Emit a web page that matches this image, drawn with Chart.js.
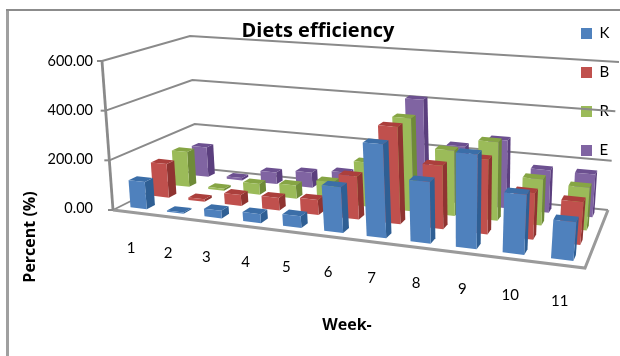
<!DOCTYPE html>
<html><head><meta charset="utf-8">
<style>html,body{margin:0;padding:0;background:#fff}#wrap{position:relative;width:620px;height:356px}</style>
<script src="https://cdn.jsdelivr.net/npm/chart.js@4"></script></head>
<body><div id="wrap"><canvas id="c" width="620" height="356"></canvas></div>
<script>
const weeks=['1','2','3','4','5','6','7','8','9','10','11'];
const seriesK=[110,5,30,35,45,175,355,230,350,220,140];
const seriesB=[140,10,45,50,60,170,380,245,285,175,160];
const seriesR=[150,8,45,55,85,180,375,260,310,180,165];
const seriesE=[130,10,50,65,80,100,415,235,275,170,170];
const yTicks=[0,200,400,600];
const colK='#4f81bd',colB='#c0504d',colR='#9bbb59',colE='#8064a2';
const sideColors=['#2f5f94','#8f3431','#6f8b38','#5b3f7e'];
const topColors=['#3b6ea8','#ab3f3c','#86a544','#6c5090'];
const depthFraction=0.36;
const yTitle='Percent (%)';

function homography(p){
  const [a,b,c,d]=p;
  const dx1=b[0]-c[0],dx2=d[0]-c[0],sx=a[0]-b[0]+c[0]-d[0];
  const dy1=b[1]-c[1],dy2=d[1]-c[1],sy=a[1]-b[1]+c[1]-d[1];
  const den=dx1*dy2-dx2*dy1;
  const g=(sx*dy2-dx2*sy)/den,h=(dx1*sy-sx*dy1)/den;
  const A=b[0]-a[0]+g*b[0],B=d[0]-a[0]+h*d[0],C=a[0];
  const D=b[1]-a[1]+g*b[1],E=d[1]-a[1]+h*d[1],F=a[1];
  return (u,v)=>{const w=g*u+h*v+1;return [(A*u+B*v+C)/w,(D*u+E*v+F)/w];};
}
const floorH=homography([[113,210],[585,268],[608,210],[197,168]]);
const ceilH=homography([[102,61],[600,100],[619,62],[190,36]]);
function proj(u,d,h){const a=floorH(u,d),b=ceilH(u,d);return [a[0]+(b[0]-a[0])*h,a[1]+(b[1]-a[1])*h];}
function poly(ctx,pts,fill){ctx.beginPath();pts.forEach((p,i)=>i?ctx.lineTo(p[0],p[1]):ctx.moveTo(p[0],p[1]));ctx.closePath();ctx.fillStyle=fill;ctx.fill();}
function line(ctx,pts,color,w){ctx.beginPath();pts.forEach((p,i)=>i?ctx.lineTo(p[0],p[1]):ctx.moveTo(p[0],p[1]));ctx.strokeStyle=color;ctx.lineWidth=w;ctx.stroke();}

const bars3d={id:'bars3d',
  afterLayout(chart){
    const l=chart.legend;
    l.left=557;l.top=2;l.right=620;l.bottom=190;l.adjustHitBoxes();
  },
  beforeDatasetsDraw(chart){
    const ctx=chart.ctx,ca=chart.chartArea,ys=chart.scales.y;
    const W=ca.right-ca.left,H=ca.bottom-ca.top;
    ctx.save();
    line(ctx,[[7.5,10],[7.5,356]],'#a0a0a0',3);
    line(ctx,[[6,10],[620,10]],'#8c8c8c',2);
    ctx.filter='blur(0.5px)';
    ys.ticks.forEach(t=>{
      const f=(ys.getPixelForValue(0)-ys.getPixelForValue(t.value))/H;
      if(f>0)line(ctx,[proj(0,0,f),proj(0,1,f),proj(1,1,f)],'#8a8a8a',2);
    });
    line(ctx,[proj(0,0,0),proj(0,1,0),proj(1,1,0)],'#8a8a8a',1.8);
    line(ctx,[proj(0,0,0),proj(1,0,0),proj(1,1,0)],'#9a9a9a',3);
    line(ctx,[proj(0,0,0),proj(0,0,1)],'#8a8a8a',2.8);
    ys.ticks.forEach(t=>{
      const f=(ys.getPixelForValue(0)-ys.getPixelForValue(t.value))/H;
      const p=proj(0,0,f);line(ctx,[[p[0]-5,p[1]],p],'#8a8a8a',2);
    });
    for(let j=chart.data.datasets.length-1;j>=0;j--){
      const meta=chart.getDatasetMeta(j),ds=chart.data.datasets[j];
      const d0=(j+(1-depthFraction)/2)/4,d1=d0+depthFraction/4;
      meta.data.forEach(el=>{
        const u0=(el.x-el.width/2-ca.left)/W,u1=(el.x+el.width/2-ca.left)/W;
        const h=(el.base-el.y)/H;
        const a=proj(u0,d0,0),b=proj(u1,d0,0),c=proj(u1,d0,h),e=proj(u0,d0,h);
        const f=proj(u1,d1,0),g=proj(u1,d1,h),k=proj(u0,d1,h);
        poly(ctx,[b,f,g,c],sideColors[j]);
        poly(ctx,[e,c,g,k],topColors[j]);
        poly(ctx,[a,b,c,e],ds.backgroundColor);
      });
    }
    ctx.filter='none';
    const xs=chart.scales.x;
    ctx.fillStyle='#000';ctx.font='15px Lato';ctx.textAlign='center';ctx.textBaseline='middle';
    weeks.forEach((w,i)=>{
      const u=(xs.getPixelForValue(i)-ca.left)/W;
      const p=proj(u,0,0);
      ctx.fillText(w,p[0],p[1]+36);
    });
    ctx.translate(30.5,237);ctx.rotate(-Math.PI/2);
    ctx.font='bold 16px "Open Sans"';
    ctx.fillText(yTitle,0,0);
    ctx.restore();
    return false;
  }
};
new Chart(document.getElementById('c'),{
  type:'bar',
  data:{labels:weeks,datasets:[
    {label:'K',data:seriesK,backgroundColor:colK},
    {label:'B',data:seriesB,backgroundColor:colB},
    {label:'R',data:seriesR,backgroundColor:colR},
    {label:'E',data:seriesE,backgroundColor:colE}]},
  plugins:[bars3d],
  options:{responsive:false,animation:false,
    layout:{padding:{left:44,right:28,top:0,bottom:0}},
    datasets:{bar:{grouped:false,categoryPercentage:1,barPercentage:0.45}},
    plugins:{
      title:{display:true,text:'Diets efficiency',color:'#000',font:{family:'Open Sans',size:20,weight:'bold'},padding:{top:19,bottom:18}},
      legend:{position:'chartArea',align:'start',labels:{boxWidth:11,boxHeight:11,padding:24,color:'#000',font:{family:'Lato',size:15}}},
      tooltip:{enabled:false}
    },
    scales:{
      x:{grid:{display:false},border:{display:false},ticks:{display:false},
         afterFit(s){s.height=148;},
         title:{display:true,text:'Week-',color:'#000',font:{family:'Open Sans',size:16,weight:'bold'},padding:{top:0,bottom:21}}},
      y:{min:0,max:600,grid:{display:false},border:{display:false},
         afterFit(s){s.width=58;},
         ticks:{callback:v=>v.toFixed(2),color:'#000',padding:1,font:{family:'Lato',size:14.5}},
         afterBuildTicks(s){s.ticks=yTicks.map(v=>({value:v}));}}
    }
  }
});
</script></body></html>
